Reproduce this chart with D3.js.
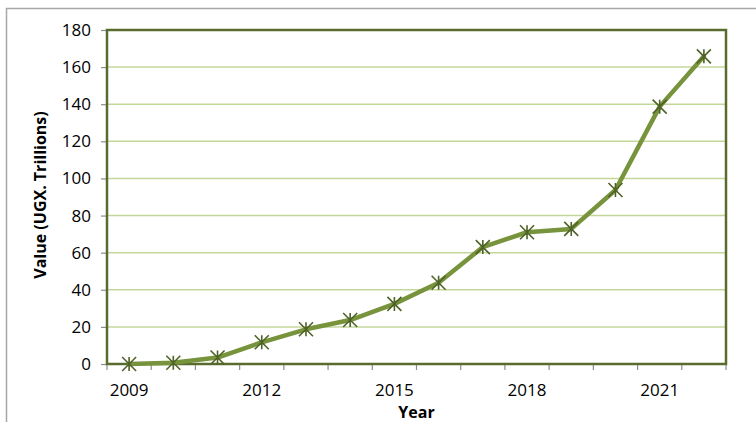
<!DOCTYPE html>
<html>
<head>
<meta charset="utf-8">
<script src="https://cdn.jsdelivr.net/npm/d3@7"></script>
<style>
  html, body { margin: 0; padding: 0; background: #fff; }
  svg { display: block; font-family: "Open Sans", "Liberation Sans", sans-serif; }
</style>
</head>
<body>
<svg id="chart" width="756" height="422"></svg>
<script>
// Yearly values, UGX trillions
const years = [2009, 2010, 2011, 2012, 2013, 2014, 2015, 2016, 2017, 2018, 2019, 2020, 2021, 2022];
const values = [0, 0.7, 3.5, 11.7, 18.7, 23.7, 32.4, 43.8, 63, 71, 72.8, 93.8, 138.7, 165.8];
const yTicks = [0, 20, 40, 60, 80, 100, 120, 140, 160, 180];
const xLabelYears = [2009, 2012, 2015, 2018, 2021];

const svg = d3.select("#chart");
const plot = { left: 107, right: 726, top: 30, bottom: 364 };

// Outer chart frame (top and left edges visible)
svg.append("path")
  .attr("d", `M6.5,422 L6.5,8.5 L756,8.5`)
  .attr("fill", "none")
  .attr("stroke", "#a6a6a6")
  .attr("stroke-width", 1.5);

const x = d3.scaleBand().domain(years).range([plot.left, plot.right]).paddingInner(0).paddingOuter(0);
const y = d3.scaleLinear().domain([0, 180]).range([plot.bottom, plot.top]);

// Gridlines
svg.append("g")
  .selectAll("line")
  .data(yTicks.filter(d => d > 0 && d < 180))
  .join("line")
  .attr("x1", plot.left).attr("x2", plot.right)
  .attr("y1", d => y(d)).attr("y2", d => y(d))
  .attr("stroke", "#c4d79b")
  .attr("stroke-width", 1.5);

// Y axis
const yAxis = svg.append("g")
  .attr("transform", `translate(${plot.left},0)`)
  .call(d3.axisLeft(y).tickValues(yTicks).tickSize(6).tickPadding(10));
yAxis.select(".domain").remove();
yAxis.selectAll(".tick line").attr("stroke", "#8c8c8c").attr("stroke-width", 1.2);
yAxis.selectAll(".tick text")
  .attr("font-size", 17)
  .attr("fill", "#000")
  .attr("font-family", "'Open Sans', sans-serif");

// X axis: ticks at category boundaries, labels every third year
const boundaries = years.map(d => x(d)).concat([plot.right]);
svg.append("g")
  .selectAll("line")
  .data(boundaries)
  .join("line")
  .attr("x1", d => d).attr("x2", d => d)
  .attr("y1", plot.bottom).attr("y2", plot.bottom + 6)
  .attr("stroke", "#8c8c8c")
  .attr("stroke-width", 1.2);

svg.append("g")
  .selectAll("text")
  .data(xLabelYears)
  .join("text")
  .attr("x", d => x(d) + x.bandwidth() / 2)
  .attr("y", 396)
  .attr("text-anchor", "middle")
  .attr("font-size", 17)
  .text(d => d);

// Plot area border
svg.append("rect")
  .attr("x", plot.left).attr("y", plot.top)
  .attr("width", plot.right - plot.left).attr("height", plot.bottom - plot.top)
  .attr("fill", "none")
  .attr("stroke", "#5a6b2f")
  .attr("stroke-width", 2.5);

// Axis titles
svg.append("text")
  .attr("x", x.range()[0] + (plot.right - plot.left) / 2)
  .attr("y", 418)
  .attr("text-anchor", "middle")
  .attr("font-size", 16)
  .attr("font-weight", "bold")
  .text("Year");

svg.append("text")
  .attr("transform", "translate(46,195) rotate(-90)")
  .attr("text-anchor", "middle")
  .attr("font-size", 16)
  .attr("font-weight", "bold")
  .text("Value (UGX. Trillions)");

// Series line
const cx = d => x(d) + x.bandwidth() / 2;
const line = d3.line().x((d, i) => cx(years[i])).y(d => y(d));
svg.append("path")
  .datum(values)
  .attr("d", line)
  .attr("fill", "none")
  .attr("stroke", "#77933c")
  .attr("stroke-width", 4.5)
  .attr("stroke-linejoin", "round")
  .attr("stroke-linecap", "round");

// Star markers
const s = 7;
svg.append("g")
  .selectAll("path")
  .data(values)
  .join("path")
  .attr("d", (d, i) => {
    const px = cx(years[i]), py = y(d);
    return `M${px - s},${py - s}L${px + s},${py + s}M${px - s},${py + s}L${px + s},${py - s}M${px},${py - s}L${px},${py + s}`;
  })
  .attr("fill", "none")
  .attr("stroke", "#4f6228")
  .attr("stroke-width", 1.6);
</script>
</body>
</html>
